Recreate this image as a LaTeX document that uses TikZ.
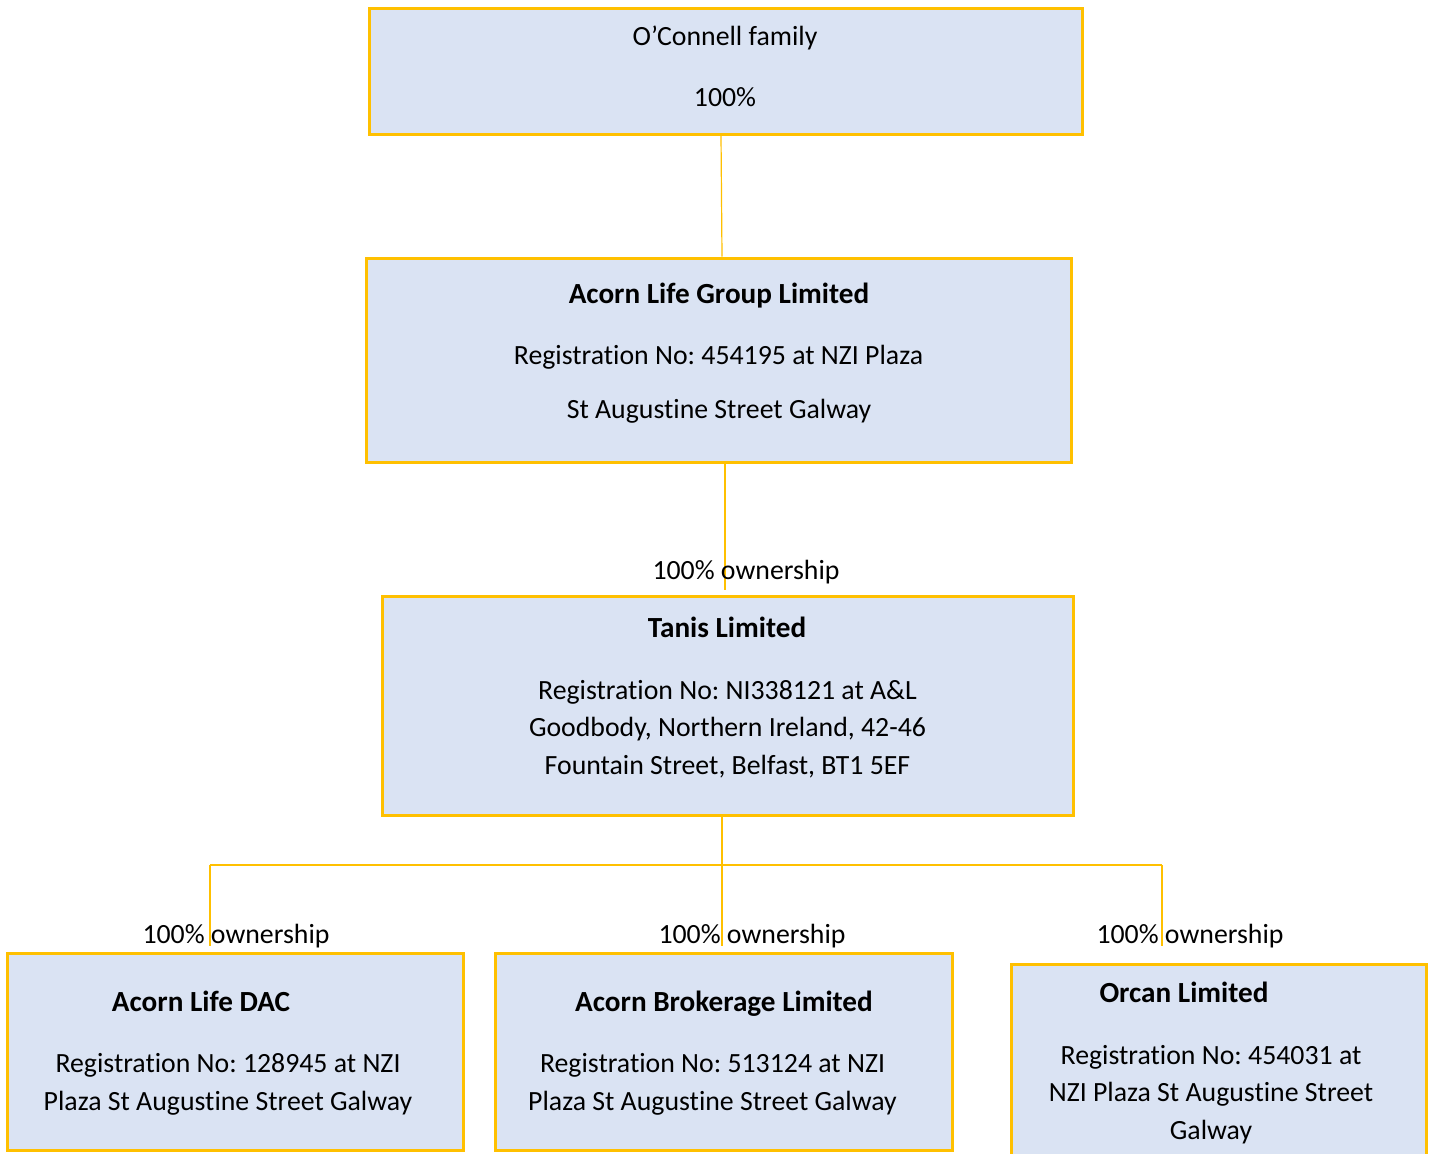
\documentclass[tikz,border=0pt]{standalone}
\usepackage{fontspec}
\setmainfont{Carlito}[Ligatures=NoCommon]
\frenchspacing
\usetikzlibrary{fit}
\definecolor{boxfill}{HTML}{DAE3F3}
\definecolor{gold}{HTML}{FFC000}
\tikzset{
  orgbox/.style={draw=gold, line width=1.5pt, fill=boxfill, rectangle, inner sep=0pt},
  conn/.style={draw=gold, line width=0.6pt},
  bodytxt/.style={font=\fontsize{13.9}{18.75}\selectfont, align=center, anchor=base, inner sep=0pt},
  titletxt/.style={font=\fontsize{14.6}{18.75}\selectfont\bfseries, anchor=base, inner sep=0pt},
  owntxt/.style={font=\fontsize{13.9}{18.75}\selectfont, anchor=base, inner sep=0pt}
}
\begin{document}
\begin{tikzpicture}[x=0.5pt, y=-0.5pt]
\useasboundingbox[fill=white] (0,0) rectangle (1429,1153);

% boxes
\node[orgbox, fit={(369,8) (1082,134)}] (fam) {};
\node[orgbox, fit={(366,258) (1071,462)}] (alg) {};
\node[orgbox, fit={(382,596) (1073,815)}] (tanis) {};
\node[orgbox, fit={(7,953) (463,1150)}] (dac) {};
\node[orgbox, fit={(495,953) (952,1150)}] (brok) {};
\node[orgbox, fit={(1011,964) (1426,1170)}] (orcan) {};

% texts (base anchor of multi-line nodes = last line baseline)
\node[bodytxt] (famA) at (725,45) {O’Connell family};
\node[bodytxt] (famB) at (725,106) {100\%};

\node[titletxt] (algT) at (719,303) {Acorn Life Group Limited};
\node[bodytxt] (algA) at (718.5,364) {Registration No: 454195 at NZI Plaza};
\node[bodytxt] (algB) at (719,418) {St Augustine Street Galway};

\node[titletxt] (tanT) at (727,637) {Tanis Limited};
\node[bodytxt] (tanA) at (727.5,774) {Registration No: NI338121 at A\&L\\Goodbody, Northern Ireland, 42-46\\Fountain Street, Belfast, BT1 5EF};

\node[titletxt] (dacT) at (201,1011) {Acorn Life DAC};
\node[bodytxt] (dacA) at (228,1110) {Registration No: 128945 at NZI\\Plaza St Augustine Street Galway};

\node[titletxt] (brokT) at (724,1011) {Acorn Brokerage Limited};
\node[bodytxt] (brokA) at (712.5,1110) {Registration No: 513124 at NZI\\Plaza St Augustine Street Galway};

\node[titletxt] (orcT) at (1184,1002) {Orcan Limited};
\node[bodytxt] (orcA) at (1211,1139) {Registration No: 454031 at\\NZI Plaza St Augustine Street\\Galway};

% connectors
\coordinate (c1) at (721,0);
\coordinate (c2) at (722,0);
\draw[conn] (fam.south -| c1) -- (alg.north -| c2);

\coordinate (c3) at (725,0);
\coordinate (e3) at (725,590);
\draw[conn] (alg.south -| c3) -- (e3);
\node[owntxt] (own1) at (746,579) {100\% ownership};

\coordinate (bus) at (722,865);
\coordinate (busL) at (210,865);
\coordinate (busR) at (1162,865);
\coordinate (eL) at (210,946);
\coordinate (eM) at (722,946);
\coordinate (eR) at (1162,946);
\draw[conn] (tanis.south -| bus) -- (eM);
\draw[conn] (busL) -- (busR);
\draw[conn] (busL) -- (eL);
\draw[conn] (busR) -- (eR);

\node[owntxt] (own2) at (236,943) {100\% ownership};
\node[owntxt] (own3) at (752,943) {100\% ownership};
\node[owntxt] (own4) at (1190,943) {100\% ownership};
\end{tikzpicture}
\end{document}
